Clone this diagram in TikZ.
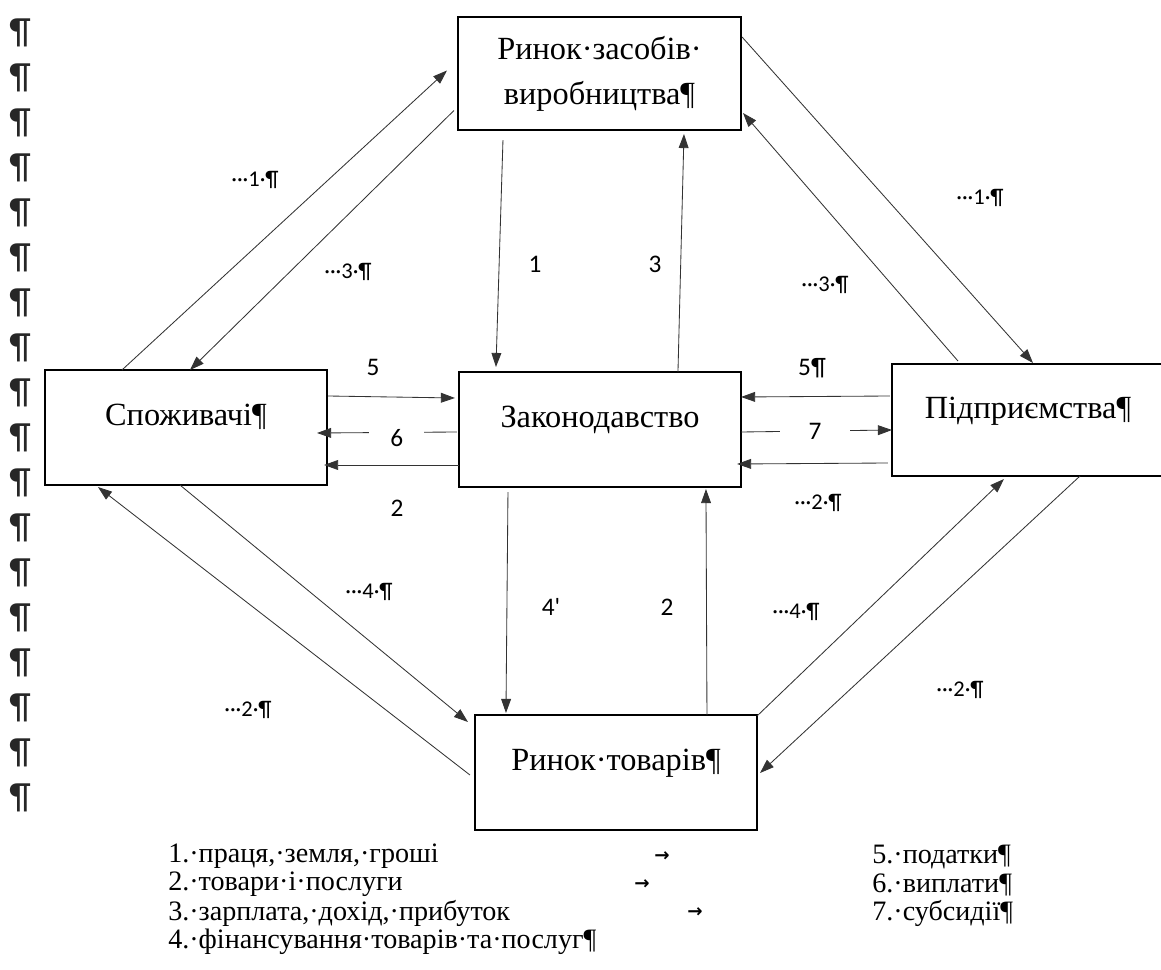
\documentclass[tikz,border=0pt]{standalone}
\usepackage{fontspec}
\setmainfont{Liberation Serif}
\setsansfont{Carlito}
\newfontfamily\tabfont{DejaVu Sans}
\usetikzlibrary{arrows.meta, calc}

\begin{document}
\begin{tikzpicture}[x=0.025cm, y=-0.025cm,
                    market/.style={draw, line width=1.1pt, outer sep=0pt, minimum width=7.05cm, minimum height=2.875cm, align=center, font=\fontsize{23}{32}\selectfont, text depth=18pt},
                    flow/.style={-{Triangle[length=10pt,width=7pt]}, line width=0.6pt, color=black!80},
                    gap/.style={fill=white, text=black, inner xsep=15pt, inner ysep=1pt, font=\sffamily\fontsize{18}{18}\selectfont},
                    digit/.style={font=\sffamily\fontsize{18}{18}\selectfont},
                    tag/.style={font=\sffamily\fontsize{16}{16}\selectfont},
                    pilcrow/.style={font=\sffamily\fontsize{26}{26}\selectfont, text=black!85},
                    legend/.style={anchor=west, inner sep=0pt, font=\fontsize{20}{20}\selectfont},
                    tabmark/.style={font=\tabfont\bfseries\fontsize{13}{13}\selectfont}]
  \useasboundingbox (0,0) rectangle (1161,969);

  \foreach \k in {0,...,17}
    \node[pilcrow] (par\k) at (20,33+45*\k) {¶};

  \node[market, minimum width=7.075cm, minimum height=2.825cm, text depth=] (rzv) at (599.5,73.5) {Ринок·засобів·\\виробництва¶};
  \node[market] (spoz) at (186,427.5) {Споживачі¶};
  \node[market] (zak) at (600,429.5) {Законодавство};
  \node[market, minimum width=6.8cm, minimum height=2.8cm] (pidp) at (1028,420) {Підприємства¶};
  \node[market] (rtov) at (616,772.5) {Ринок·товарів¶};

  \path[flow] ($(spoz.north west)+(77,0)$) edge ($(rzv.west)+(-11,-3)$);
  \path[flow] ($(rzv.west)+(-4,37)$) edge ($(spoz.north)+(4,0)$);
  \path[flow] ($(rzv.south west)+(45,10)$) edge ($(zak.north west)+(37,-5)$);
  \path[flow] ($(zak.north west)+(219,0)$) edge ($(rzv.south west)+(226,4)$);
  \path[flow] ($(rzv.north east)+(1,20)$) edge ($(pidp.north west)+(141,-1)$);
  \path[flow] ($(pidp.north west)+(66,-3)$) edge ($(rzv.south east)+(2,-17)$);

  \path[flow] ($(spoz.north east)+(1,26)$) edge ($(zak.north west)+(-4,26)$);
  \path[flow] ($(zak.north west)+(-2,60)$) edge node[gap, pos=0.43, yshift=-4pt] (l6) {6} ($(spoz.north east)+(-10,63)$);
  \path[flow] ($(zak.north west)+(0,93)$) edge ($(spoz.north east)+(-3,95)$);
  \path[flow] ($(pidp.north west)+(-2,32)$) edge ($(zak.north east)+(0,25)$);
  \path[flow] ($(zak.north east)+(0,60)$) edge node[gap, pos=0.49, inner xsep=20pt] (l7) {7} ($(pidp.north west)+(0,66)$);
  \path[flow] ($(pidp.north west)+(-4,99)$) edge ($(zak.north east)+(-4,92)$);

  \path[flow] ($(zak.south west)+(49,5)$) edge ($(rtov.north west)+(31,-2)$);
  \path[flow] ($(rtov.north west)+(232,0)$) edge ($(zak.south west)+(247,2)$);
  \path[flow] ($(spoz.south west)+(135,0)$) edge ($(rtov.north west)+(-7,7)$);
  \path[flow] ($(rtov.north west)+(-5,60)$) edge ($(spoz.south west)+(53,2)$);
  \path[flow] ($(rtov.north east)+(0,1)$) edge ($(pidp.south west)+(112,3)$);
  \path[flow] ($(pidp.south west)+(188,0)$) edge ($(rtov.north east)+(3,58)$);

  \node[tag] (l1a) at (255,180) {···1·¶};
  \node[tag] (l3a) at (348,272) {···3·¶};
  \node[digit] (l1) at (535,264) {1};
  \node[digit] (l3) at (655,264) {3};
  \node[tag] (l1b) at (980,198) {···1·¶};
  \node[tag] (l3b) at (825,285) {···3·¶};
  \node[digit] (l5a) at (373,367) {5};
  \node[digit] (l2a) at (397,508) {2};
  \node[digit] (l5b) at (812,368) {5¶};
  \node[tag] (l2b) at (818,503) {···2·¶};
  \node[digit] (l4) at (551,607) {4\textquotesingle};
  \node[digit] (l2c) at (667,607) {2};
  \node[tag] (l4a) at (369,592) {···4·¶};
  \node[tag] (l2d) at (248,710) {···2·¶};
  \node[tag] (l4b) at (796,612) {···4·¶};
  \node[tag] (l2e) at (960,690) {···2·¶};

  \node[legend] (leg1) at (168,856) {1.·праця,·земля,·гроші};
  \node[legend] (leg2) at (168,884) {2.·товари·і·послуги};
  \node[legend] (leg3) at (168,913) {3.·зарплата,·дохід,·прибуток};
  \node[legend] (leg4) at (168,942) {4.·фінансування·товарів·та·послуг¶};
  \node[tabmark] (tab1) at (662,857) {→};
  \node[tabmark] (tab2) at (642,885) {→};
  \node[tabmark] (tab3) at (695,913) {→};
  \node[legend] (leg5) at (872,857) {5.·податки¶};
  \node[legend] (leg6) at (872,885) {6.·виплати¶};
  \node[legend] (leg7) at (872,913) {7.·субсидії¶};
\end{tikzpicture}
\end{document}
